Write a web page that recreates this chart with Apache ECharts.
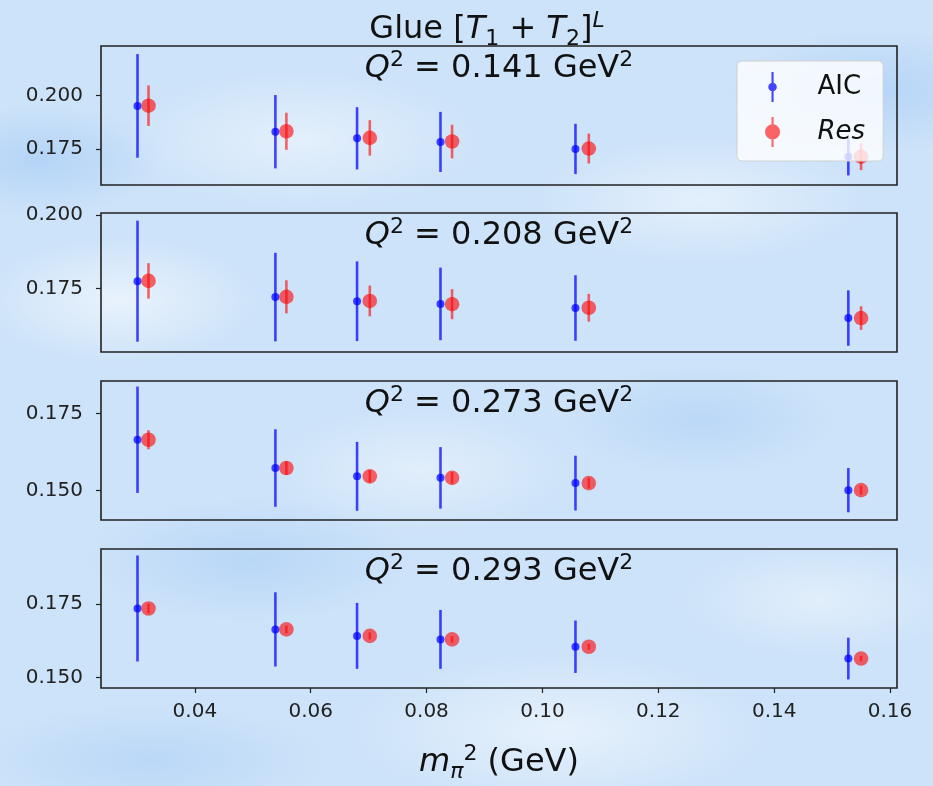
<!DOCTYPE html>
<html>
<head>
<meta charset="utf-8">
<script src="https://cdn.jsdelivr.net/npm/echarts@6/dist/echarts.min.js"></script>
<style>
  html, body { margin: 0; padding: 0; }
  body {
    width: 933px; height: 786px; overflow: hidden;
    background-color: #cde3f9;
    background-image:
      radial-gradient(ellipse 200px 90px at 120px 300px, rgba(255,255,255,0.55), rgba(255,255,255,0) 70%),
      radial-gradient(ellipse 260px 100px at 300px 140px, rgba(255,255,255,0.45), rgba(255,255,255,0) 70%),
      radial-gradient(ellipse 240px 90px at 700px 200px, rgba(255,255,255,0.45), rgba(255,255,255,0) 70%),
      radial-gradient(ellipse 300px 110px at 560px 730px, rgba(255,255,255,0.5), rgba(255,255,255,0) 70%),
      radial-gradient(ellipse 220px 90px at 420px 470px, rgba(255,255,255,0.4), rgba(255,255,255,0) 70%),
      radial-gradient(ellipse 200px 80px at 820px 600px, rgba(255,255,255,0.4), rgba(255,255,255,0) 70%),
      radial-gradient(ellipse 180px 80px at 40px 160px, rgba(160,200,245,0.55), rgba(160,200,245,0) 70%),
      radial-gradient(ellipse 220px 90px at 880px 90px, rgba(160,200,245,0.5), rgba(160,200,245,0) 70%),
      radial-gradient(ellipse 240px 90px at 250px 560px, rgba(165,203,245,0.5), rgba(165,203,245,0) 70%),
      radial-gradient(ellipse 200px 80px at 700px 420px, rgba(165,203,245,0.45), rgba(165,203,245,0) 70%),
      radial-gradient(ellipse 260px 80px at 150px 760px, rgba(165,203,245,0.45), rgba(165,203,245,0) 70%);
  }
  #chart { width: 933px; height: 786px; }
</style>
</head>
<body>
<div id="chart"></div>
<script>
// x positions (m_pi^2) for the two methods
const xAIC = [0.0301, 0.0539, 0.0680, 0.0824, 0.1057, 0.1528];
const xRes = [0.0320, 0.0558, 0.0702, 0.0844, 0.1080, 0.1550];

// Q^2 panels
const q2Labels = ["0.141", "0.208", "0.273", "0.293"];

// AIC values / errors per panel
const aic1 = [0.1952, 0.1831, 0.1800, 0.1783, 0.1750, 0.1714];
const aicErr1 = [0.0243, 0.0172, 0.0146, 0.0141, 0.0118, 0.0088];
const aic2 = [0.1775, 0.1721, 0.1707, 0.1698, 0.1684, 0.1650];
const aicErr2 = [0.0205, 0.0150, 0.0135, 0.0123, 0.0111, 0.0094];
const aic3 = [0.1665, 0.1573, 0.1546, 0.1541, 0.1524, 0.1501];
const aicErr3 = [0.0173, 0.0126, 0.0112, 0.0100, 0.0089, 0.0072];
const aic4 = [0.1735, 0.1664, 0.1642, 0.1630, 0.1605, 0.1565];
const aicErr4 = [0.0180, 0.0126, 0.0112, 0.0100, 0.0089, 0.0071];

// Res values / errors per panel
const res1 = [0.1953, 0.1833, 0.1802, 0.1785, 0.1752, 0.1714];
const resErr1 = [0.0095, 0.0087, 0.0083, 0.0079, 0.0070, 0.0063];
const res2 = [0.1776, 0.1722, 0.1708, 0.1697, 0.1685, 0.1650];
const resErr2 = [0.0060, 0.0056, 0.0052, 0.0051, 0.0047, 0.0040];
const res3 = [0.1665, 0.1573, 0.1546, 0.1541, 0.1524, 0.1501];
const resErr3 = [0.0031, 0.0022, 0.0020, 0.0019, 0.0017, 0.0015];
const res4 = [0.1735, 0.1664, 0.1642, 0.1630, 0.1605, 0.1565];
const resErr4 = [0.0016, 0.0013, 0.0012, 0.0011, 0.0010, 0.0009];

// axis ticks and ranges
const xTicks = [0.04, 0.06, 0.08, 0.10, 0.12, 0.14, 0.16];
const yTicks = [[0.175, 0.200], [0.175, 0.200], [0.150, 0.175], [0.150, 0.175]];
const yMin = [0.1581, 0.1535, 0.1404, 0.1465];
const yMax = [0.2233, 0.2006, 0.1856, 0.1937];
const xMin = 0.0238, xMax = 0.1612;

const aicVals = [aic1, aic2, aic3, aic4];
const aicErrs = [aicErr1, aicErr2, aicErr3, aicErr4];
const resVals = [res1, res2, res3, res4];
const resErrs = [resErr1, resErr2, resErr3, resErr4];

const BLUE = "rgba(0,0,255,0.72)";
const RED = "rgba(255,0,0,0.6)";
const FONT = "DejaVu Sans";

const gridTops = [46, 213, 381, 549];
const gridH = 139;

const chart = echarts.init(document.getElementById("chart"));

// error bar + marker drawn through the axis scales
function errorBar(color, radius) {
  return function (params, api) {
    const x = api.value(0), y = api.value(1), e = api.value(2);
    const c = api.coord([x, y]);
    const hi = api.coord([x, y + e]);
    const lo = api.coord([x, y - e]);
    return {
      type: "group",
      children: [
        { type: "line", shape: { x1: c[0], y1: hi[1], x2: c[0], y2: lo[1] },
          style: { stroke: color, lineWidth: 2.6 } },
        { type: "circle", shape: { cx: c[0], cy: c[1], r: radius }, style: { fill: color } }
      ]
    };
  };
}

const base = { fontFamily: FONT, fontWeight: "normal", color: "#111" };
const richText = {
  n: { ...base, fontSize: 32, lineHeight: 40 },
  i: { ...base, fontSize: 32, lineHeight: 40, fontStyle: "italic" },
  sup: { ...base, fontSize: 22, lineHeight: 20, verticalAlign: "top" },
  supi: { ...base, fontSize: 22, lineHeight: 20, fontStyle: "italic", verticalAlign: "top" },
  sub: { ...base, fontSize: 22, lineHeight: 20, verticalAlign: "bottom" },
  subi: { ...base, fontSize: 22, lineHeight: 20, fontStyle: "italic", verticalAlign: "bottom" }
};

const grids = [], xAxes = [], yAxes = [], series = [];
const titles = [{
  text: "{n|Glue [}{i|T}{sub|1}{n| + }{i|T}{sub|2}{n|]}{supi|L}",
  left: 487, top: 10, textAlign: "center", padding: 0,
  textStyle: { fontWeight: "normal", rich: richText }
}];

for (let p = 0; p < 4; p++) {
  const last = p === 3;
  grids.push({
    left: 101, right: 36, top: gridTops[p], height: gridH,
    show: true, borderColor: "#222", borderWidth: 1.6, backgroundColor: "transparent"
  });
  xAxes.push({
    type: "value", gridIndex: p, min: xMin, max: xMax,
    axisLine: { show: false }, splitLine: { show: false },
    axisTick: { show: last, customValues: xTicks, length: 5, lineStyle: { color: "#222", width: 1.2 } },
    axisLabel: { show: last, customValues: xTicks, margin: 14, fontSize: 20, fontFamily: FONT, color: "#222",
      formatter: v => v.toFixed(2) },
    name: last ? "{i|m}{subi|π}{sup|2}{n| (GeV)}" : "",
    nameLocation: "middle", nameGap: 55,
    nameTextStyle: { rich: richText }
  });
  yAxes.push({
    type: "value", gridIndex: p, min: yMin[p], max: yMax[p],
    axisLine: { show: false }, splitLine: { show: false },
    axisTick: { show: true, customValues: yTicks[p], length: 5, lineStyle: { color: "#222", width: 1.2 } },
    axisLabel: { customValues: yTicks[p], margin: 18, fontSize: 20, fontFamily: FONT, color: "#222",
      formatter: v => v.toFixed(3) }
  });
  titles.push({
    text: "{i|Q}{sup|2}{n| = " + q2Labels[p] + " GeV}{sup|2}",
    left: 499, top: gridTops[p] + 3, textAlign: "center", padding: 0,
    textStyle: { fontWeight: "normal", rich: richText }
  });
  series.push({
    name: "AIC", type: "custom", xAxisIndex: p, yAxisIndex: p, clip: true,
    itemStyle: { color: BLUE },
    renderItem: errorBar(BLUE, 4),
    encode: { x: 0, y: 1 },
    data: xAIC.map((x, j) => [x, aicVals[p][j], aicErrs[p][j]]),
    z: 3
  });
  series.push({
    name: "Res", type: "custom", xAxisIndex: p, yAxisIndex: p, clip: true,
    itemStyle: { color: RED },
    renderItem: errorBar(RED, 7.3),
    encode: { x: 0, y: 1 },
    data: xRes.map((x, j) => [x, resVals[p][j], resErrs[p][j]]),
    z: 4
  });
}

const iconAIC = "path://M7 0H9V28H7Z M8 10A4 4 0 1 1 8 18A4 4 0 1 1 8 10Z";
const iconRes = "path://M7 0H9V29H7Z M8 7A7.3 7.3 0 1 1 8 21.6A7.3 7.3 0 1 1 8 7Z";

const option = {
  backgroundColor: "transparent",
  animation: false,
  title: titles,
  legend: {
    orient: "vertical", left: 737, top: 61,
    padding: [11, 18, 14, 28],
    itemWidth: 16, itemHeight: 30, itemGap: 15,
    backgroundColor: "rgba(255,255,255,0.8)",
    borderColor: "#d0d0d0", borderWidth: 1, borderRadius: 5,
    textStyle: { fontSize: 26, fontFamily: FONT, color: "#111", padding: [0, 0, 0, 32] },
    data: [
      { name: "AIC", icon: iconAIC },
      { name: "Res", icon: iconRes, textStyle: { fontStyle: "italic" } }
    ],
    z: 10
  },
  grid: grids,
  xAxis: xAxes,
  yAxis: yAxes,
  series: series
};

chart.setOption(option);
window.addEventListener("resize", () => chart.resize());
</script>
</body>
</html>
